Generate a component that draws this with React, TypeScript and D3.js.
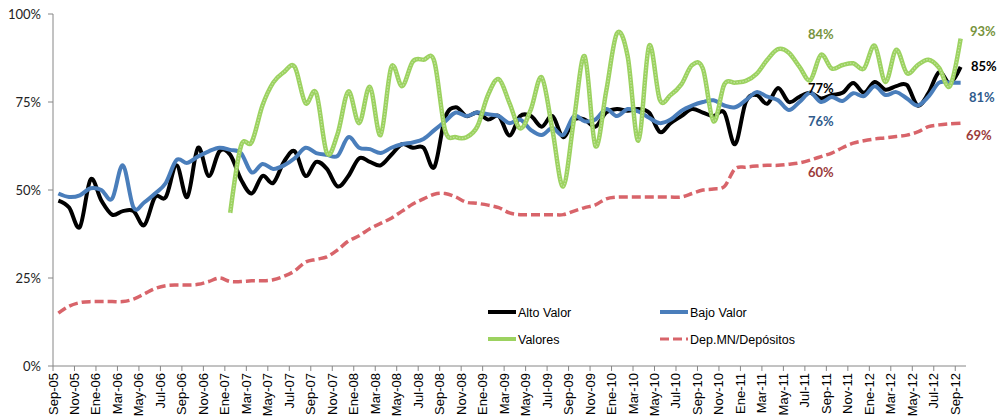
import React, { useEffect, useRef } from 'react'
import * as d3 from 'd3'

// Sep-05 .. Sep-12, one value per month (85 months)
const tickLabels = [
    'Sep-05', 'Nov-05', 'Ene-06', 'Mar-06', 'May-06', 'Jul-06', 'Sep-06', 'Nov-06',
    'Ene-07', 'Mar-07', 'May-07', 'Jul-07', 'Sep-07', 'Nov-07', 'Ene-08', 'Mar-08',
    'May-08', 'Jul-08', 'Sep-08', 'Nov-08', 'Ene-09', 'Mar-09', 'May-09', 'Jul-09',
    'Sep-09', 'Nov-09', 'Ene-10', 'Mar-10', 'May-10', 'Jul-10', 'Sep-10', 'Nov-10',
    'Ene-11', 'Mar-11', 'May-11', 'Jul-11', 'Sep-11', 'Nov-11', 'Ene-12', 'Mar-12',
    'May-12', 'Jul-12', 'Sep-12',
]

const altoValor = [
    47, 45, 39.5, 53, 47, 43, 44, 44, 40, 48,
    48, 57, 48, 62, 54, 61, 60, 53, 49, 54,
    52, 58, 61, 54, 58, 56, 51, 54, 59, 58,
    57, 60, 63, 62, 62, 56.5, 70.5, 73.5, 71, 72,
    70, 71, 65.5, 71, 71, 68, 71, 65, 70, 70,
    68, 72, 73, 72.5, 73, 72, 66.5, 69, 71, 73,
    72, 71, 72, 63, 75, 77, 74.5, 79, 75, 76.5,
    77.6, 76, 77, 77.6, 80.4, 77.6, 80.7, 78.5, 79.5, 79.8,
    74, 77.5, 83.5, 80.4, 85,
]

const bajoValor = [
    49, 48, 48.5, 50.5, 50, 47.5, 57, 45, 46.5, 49,
    52, 58.5, 57.7, 59.5, 61, 62, 61.4, 60.5, 55, 57.4,
    56, 57, 59, 62, 60.5, 60, 59.7, 65, 62, 61.6,
    60.5, 62, 63, 63.5, 64.5, 67, 69.5, 72, 71, 72,
    71.5, 71, 69, 70, 67, 65.6, 67.6, 65.6, 71, 69.5,
    70, 73, 71, 73, 72.3, 70.5, 69, 70, 72.5, 74,
    75, 75.5, 74, 73.5, 75.5, 77.8, 76.5, 75.5, 72.7, 75,
    77.6, 75, 76.4, 75.3, 77.5, 76.7, 79.5, 77, 77.8, 76,
    74, 76.5, 80.5, 80.5, 80.5,
]

// Valores starts in Ene-07
const valores: (number | null)[] = [
    null, null, null, null, null, null, null, null, null, null,
    null, null, null, null, null, null,
    43.5, 62.5, 63.6, 74, 80.5, 83.5, 85, 74.7, 77.6, 60.5,
    66, 78, 69, 79.3, 65.6, 85, 79.5, 86.5, 87, 86.5,
    67, 65, 65, 68, 77, 81.5, 74.7, 67.5, 73, 82,
    67, 51, 70, 88, 62.5, 78, 94.5, 88, 64, 91,
    75.6, 77, 80, 85.5, 84.5, 69.5, 80, 80.5, 81, 83,
    87, 90, 89, 85, 81.2, 88.4, 84.5, 85.5, 86, 84.5,
    91, 80.7, 89.8, 83.2, 85.5, 87, 84.7, 79.5, 93,
]

const depMN = [
    15, 17, 18, 18.3, 18.3, 18.3, 18.3, 19, 20.5, 22,
    22.8, 23, 23, 23.2, 24, 25, 24, 24, 24.2, 24.2,
    24.5, 25.5, 27, 29.5, 30.3, 31, 33, 35.5, 37, 39,
    40.5, 42, 44, 46, 47.5, 48.8, 49, 48, 46.5, 46.2,
    45.7, 45, 43.5, 43, 43, 43, 43, 43, 44, 45,
    45.8, 47.5, 48, 48, 48, 48, 48, 48, 48, 49,
    50, 50.3, 51, 56, 56.5, 56.8, 57, 57, 57.3, 57.7,
    58.5, 59.5, 60.5, 62, 63.3, 64, 64.5, 64.8, 65.2, 65.6,
    66.5, 68, 68.5, 68.8, 69,
]

const yTicks = [0, 25, 50, 75, 100]

const W = 997
const H = 419
const left = 53
const right = 966
const top = 14
const bottom = 366

export default function App() {
    const ref = useRef<SVGSVGElement>(null)

    useEffect(() => {
        document.body.style.margin = '0'
        const svg = d3.select(ref.current)
        svg.selectAll('*').remove()

        const n = altoValor.length
        const x = d3.scaleBand<number>().domain(d3.range(n)).range([left, right])
        const cx = (i: number) => (x(i) as number) + x.bandwidth() / 2
        const y = d3.scaleLinear().domain([0, 100]).range([bottom, top])

        // axes
        const axisColor = '#868686'
        svg.append('line').attr('x1', left).attr('x2', left).attr('y1', top).attr('y2', bottom)
            .attr('stroke', axisColor)
        svg.append('line').attr('x1', left).attr('x2', right).attr('y1', bottom).attr('y2', bottom)
            .attr('stroke', axisColor)

        yTicks.forEach(t => {
            svg.append('line').attr('x1', left - 5).attr('x2', left).attr('y1', y(t)).attr('y2', y(t))
                .attr('stroke', axisColor)
            svg.append('text').attr('x', 41).attr('y', y(t) + 4.5)
                .attr('text-anchor', 'end')
                .style('font-family', 'Lato, sans-serif').style('font-size', '13px').attr('fill', '#222')
                .text(t + '%')
        })

        tickLabels.forEach((lab, k) => {
            const xp = x(k * 2) as number
            svg.append('line').attr('x1', xp).attr('x2', xp).attr('y1', bottom).attr('y2', bottom + 5)
                .attr('stroke', axisColor)
            svg.append('text')
                .attr('transform', `translate(${xp + 4.5},${bottom + 7}) rotate(-90)`)
                .attr('text-anchor', 'end')
                .style('font-family', '"Liberation Sans", Arial, sans-serif').style('font-size', '13px')
                .attr('fill', '#000')
                .text(lab)
        })

        const line = d3.line<number | null>()
            .defined(d => d !== null)
            .x((d, i) => cx(i))
            .y(d => y(d as number))
            .curve(d3.curveCardinal.tension(0))

        svg.append('path').attr('d', line(altoValor)).attr('fill', 'none')
            .attr('stroke', '#000').attr('stroke-width', 4)
        svg.append('path').attr('d', line(bajoValor)).attr('fill', 'none')
            .attr('stroke', '#4a7ebb').attr('stroke-width', 4)
        svg.append('path').attr('d', line(valores)).attr('fill', 'none')
            .attr('stroke', '#9cd260').attr('stroke-width', 4.5)
        svg.append('path').attr('d', line(valores)).attr('fill', 'none')
            .attr('stroke', '#c4e4a0').attr('stroke-width', 1.2).attr('stroke-dasharray', '1.5,1.5')
        svg.append('path').attr('d', line(depMN)).attr('fill', 'none')
            .attr('stroke', '#d8646a').attr('stroke-width', 3.5).attr('stroke-dasharray', '9,4')

        // legend
        const leg = [
            { name: 'Alto Valor', x: 488, y: 312, color: '#000', dash: null },
            { name: 'Bajo Valor', x: 660, y: 312, color: '#4a7ebb', dash: null },
            { name: 'Valores', x: 488, y: 339, color: '#9cd260', dash: null },
            { name: 'Dep.MN/Depósitos', x: 660, y: 339, color: '#d8646a', dash: '9,4' },
        ]
        leg.forEach(l => {
            svg.append('line').attr('x1', l.x).attr('x2', l.x + 28).attr('y1', l.y).attr('y2', l.y)
                .attr('stroke', l.color).attr('stroke-width', l.dash ? 3 : 4)
                .attr('stroke-dasharray', l.dash)
            svg.append('text').attr('x', l.x + 30).attr('y', l.y + 4.5)
                .style('font-family', '"Liberation Sans", Arial, sans-serif').style('font-size', '12.5px')
                .attr('fill', '#000')
                .text(l.name)
        })

        // end / mid annotations
        const notes = [
            { t: '84%', x: 808, y: 39, c: '#77933c' },
            { t: '93%', x: 970, y: 36, c: '#77933c' },
            { t: '85%', x: 971, y: 71, c: '#000' },
            { t: '77%', x: 808, y: 93, c: '#000' },
            { t: '81%', x: 969, y: 102, c: '#2f5b8c' },
            { t: '76%', x: 808, y: 126, c: '#2f5b8c' },
            { t: '69%', x: 966, y: 140, c: '#9b3b3b' },
            { t: '60%', x: 808, y: 177, c: '#9b3b3b' },
        ]
        notes.forEach(o => {
            svg.append('text').attr('x', o.x).attr('y', o.y)
                .style('font-family', 'Lato, sans-serif').style('font-size', '13px').style('font-weight', 'bold')
                .attr('fill', o.c)
                .text(o.t)
        })
    }, [])

    return <svg ref={ref} width={W} height={H} style={{ display: 'block', background: '#fff' }} />
}
